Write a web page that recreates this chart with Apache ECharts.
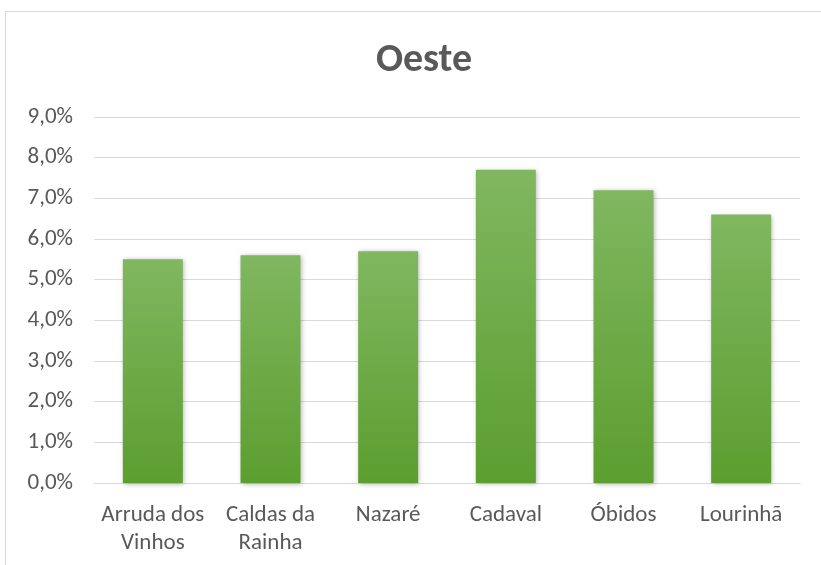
<!DOCTYPE html>
<html>
<head>
<meta charset="utf-8">
<script src="https://cdn.jsdelivr.net/npm/echarts@6/dist/echarts.min.js"></script>
<style>
  html, body { margin: 0; padding: 0; background: #fff; }
  #container { width: 821px; height: 565px; }
</style>
</head>
<body>
<div id="container"></div>
<script>
const chartTitle = 'Oeste';
const municipios = ['Arruda dos\nVinhos', 'Caldas da\nRainha', 'Nazaré', 'Cadaval', 'Óbidos', 'Lourinhã'];
const taxas = [5.5, 5.6, 5.7, 7.7, 7.2, 6.6];
const yMin = 0;
const yMax = 9;
const yStep = 1;

function draw_bars() {
    let dom = document.getElementById("container");
    let myChart = echarts.init(dom);
    const font = "Carlito, 'Open Sans', 'Noto Sans', sans-serif";

    let option = {
        animation: false,
        backgroundColor: '#fff',
        graphic: [{
            type: 'rect',
            shape: {x: 5.5, y: 11.5, width: 830, height: 570},
            style: {fill: 'none', stroke: '#d9d9d9', lineWidth: 1}
        }],
        title: {
            text: chartTitle,
            left: 419,
            top: 36,
            textAlign: 'center',
            textStyle: {
                color: '#595959',
                fontFamily: font,
                fontWeight: 'bold',
                fontSize: 40
            }
        },
        grid: {
            left: 94,
            right: 21,
            top: 117,
            bottom: 82,
            containLabel: false
        },
        xAxis: {
            type: 'category',
            data: municipios,
            axisLine: {lineStyle: {color: '#d9d9d9', width: 1}},
            axisTick: {show: false},
            axisLabel: {
                color: '#595959',
                fontFamily: font,
                fontSize: 23,
                lineHeight: 28,
                margin: 18,
                interval: 0
            }
        },
        yAxis: {
            type: 'value',
            min: yMin,
            max: yMax,
            interval: yStep,
            axisLine: {show: false},
            axisTick: {show: false},
            splitLine: {lineStyle: {color: '#d9d9d9', width: 1}},
            axisLabel: {
                color: '#595959',
                fontFamily: font,
                fontSize: 23,
                margin: 21,
                formatter: function (v) {
                    return v.toFixed(1).replace('.', ',') + '%';
                }
            }
        },
        series: [{
            type: 'bar',
            data: taxas,
            barWidth: 60,
            itemStyle: {
                color: new echarts.graphic.LinearGradient(0, 0, 0, 1, [
                    {offset: 0, color: '#80b760'},
                    {offset: 1, color: '#5c9e2f'}
                ]),
                shadowColor: 'rgba(0,0,0,0.3)',
                shadowBlur: 5,
                shadowOffsetX: 1,
                shadowOffsetY: 1
            }
        }]
    };

    if (option && typeof option === "object") {
        myChart.setOption(option, true);
    }
}

draw_bars();
</script>
</body>
</html>
